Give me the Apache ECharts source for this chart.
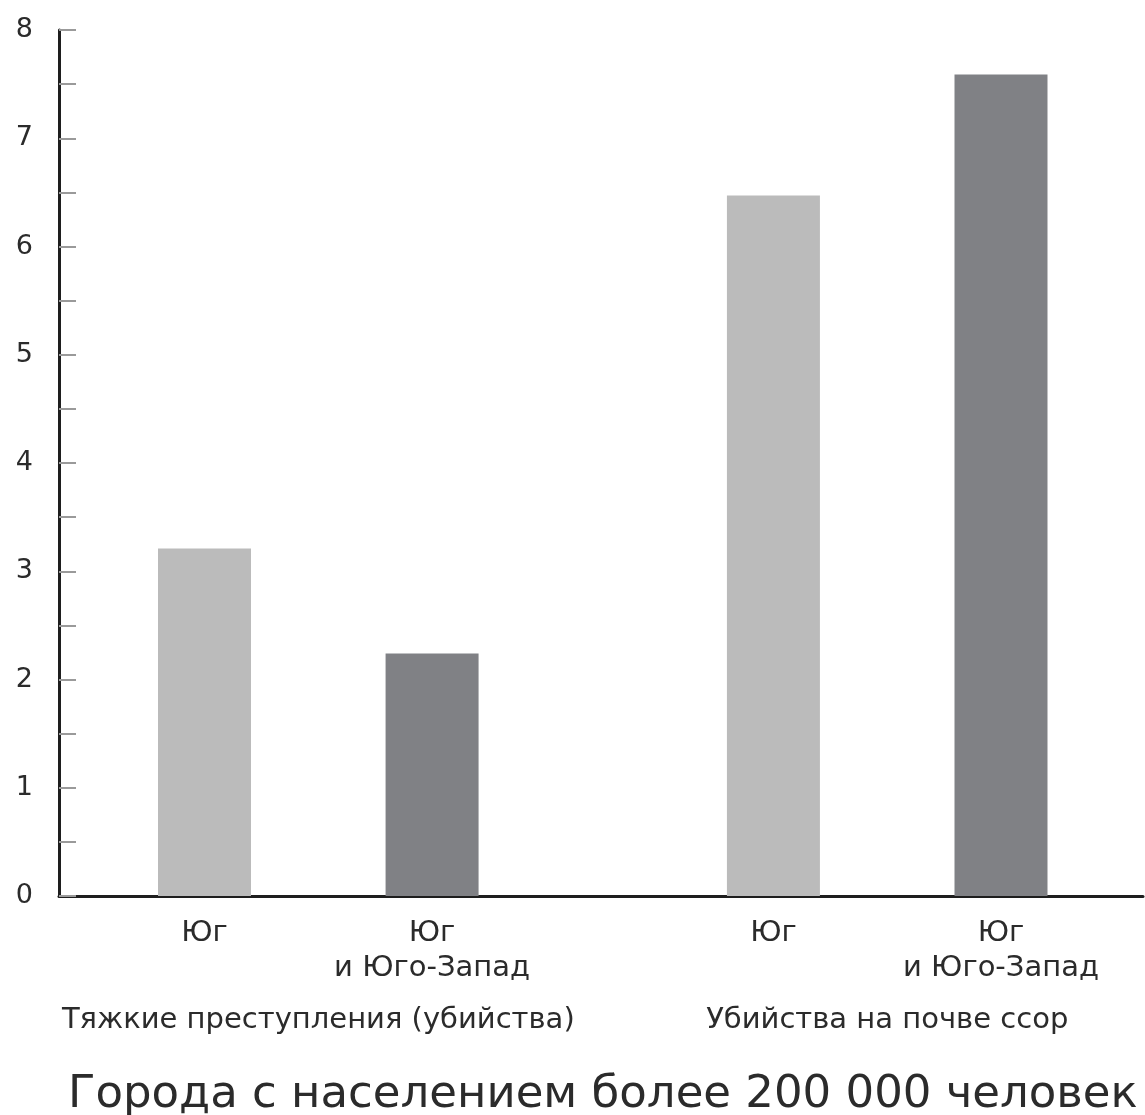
<!DOCTYPE html>
<html>
<head>
<meta charset="utf-8">
<script src="https://cdn.jsdelivr.net/npm/echarts@6/dist/echarts.min.js"></script>
<style>html,body{margin:0;padding:0;background:#fff}#c{width:1145px;height:1115px}</style>
</head>
<body>
<div id="c"></div>
<script>
// Data
var barLabels = ['Юг', 'Юг\nи Юго-Запад', 'Юг', 'Юг\nи Юго-Запад'];
var barPositions = [0, 1, 2.5, 3.5];
var groupLabels = ['Тяжкие преступления (убийства)', 'Убийства на почве ссор'];
var southValues = [3.21, 6.47];          // Юг
var southWestValues = [2.24, 7.59];      // Юг и Юго-Запад
var yTicks = [0, 1, 2, 3, 4, 5, 6, 7, 8];
var titleText = 'Города с населением более 200 000 человек';

var FONT = 'DejaVu Sans';
var groupCenters = [(barPositions[0] + barPositions[1]) / 2, (barPositions[2] + barPositions[3]) / 2];

function labelAt(list, positions, v) {
  for (var i = 0; i < positions.length; i++) {
    if (Math.abs(positions[i] - v) < 1e-6) return list[i];
  }
  return '';
}

var chart = echarts.init(document.getElementById('c'));
chart.setOption({
  animation: false,
  backgroundColor: '#fff',
  title: {
    text: titleText,
    left: 63,
    top: 1068,
    textStyle: { fontFamily: FONT, fontSize: 45, fontWeight: 'normal', color: '#2b2b2b' }
  },
  grid: { left: 59, right: 2, top: 30, bottom: 219, containLabel: false },
  xAxis: [
    {
      type: 'value',
      min: -0.6394,
      max: 4.124,
      position: 'bottom',
      axisLine: { show: true, onZero: false, lineStyle: { color: '#1e1e1e', width: 3 } },
      axisTick: { show: false },
      splitLine: { show: false },
      axisLabel: {
        customValues: barPositions,
        margin: 20,
        fontFamily: FONT, fontSize: 29, color: '#2b2b2b', lineHeight: 35,
        formatter: function (v) { return labelAt(barLabels, barPositions, v); }
      }
    },
    {
      type: 'value',
      min: -0.6394,
      max: 4.124,
      position: 'bottom',
      offset: 110,
      axisLine: { show: false },
      axisTick: { show: false },
      splitLine: { show: false },
      axisLabel: {
        customValues: groupCenters,
        margin: 0,
        fontFamily: FONT, fontSize: 29, color: '#2b2b2b',
        formatter: function (v) { return labelAt(groupLabels, groupCenters, v); }
      }
    }
  ],
  yAxis: {
    type: 'value',
    min: yTicks[0],
    max: yTicks[yTicks.length - 1],
    interval: 1,
    axisLine: { show: true, onZero: false, lineStyle: { color: '#1e1e1e', width: 3 } },
    axisTick: { show: true, inside: true, length: 17, lineStyle: { color: '#9a9a9a', width: 2 } },
    minorTick: { show: true, splitNumber: 2, length: 17, lineStyle: { color: '#9a9a9a', width: 2 } },
    splitLine: { show: false },
    axisLabel: { margin: 26, fontFamily: FONT, fontSize: 27, color: '#2b2b2b' }
  },
  series: [
    {
      name: 'Юг',
      type: 'bar',
      barWidth: 93,
      barGap: '-100%',
      itemStyle: { color: '#bbbbbb' },
      data: [[barPositions[0], southValues[0]], [barPositions[2], southValues[1]]]
    },
    {
      name: 'Юг и Юго-Запад',
      type: 'bar',
      barWidth: 93,
      barGap: '-100%',
      itemStyle: { color: '#808185' },
      data: [[barPositions[1], southWestValues[0]], [barPositions[3], southWestValues[1]]]
    }
  ]
});
</script>
</body>
</html>
